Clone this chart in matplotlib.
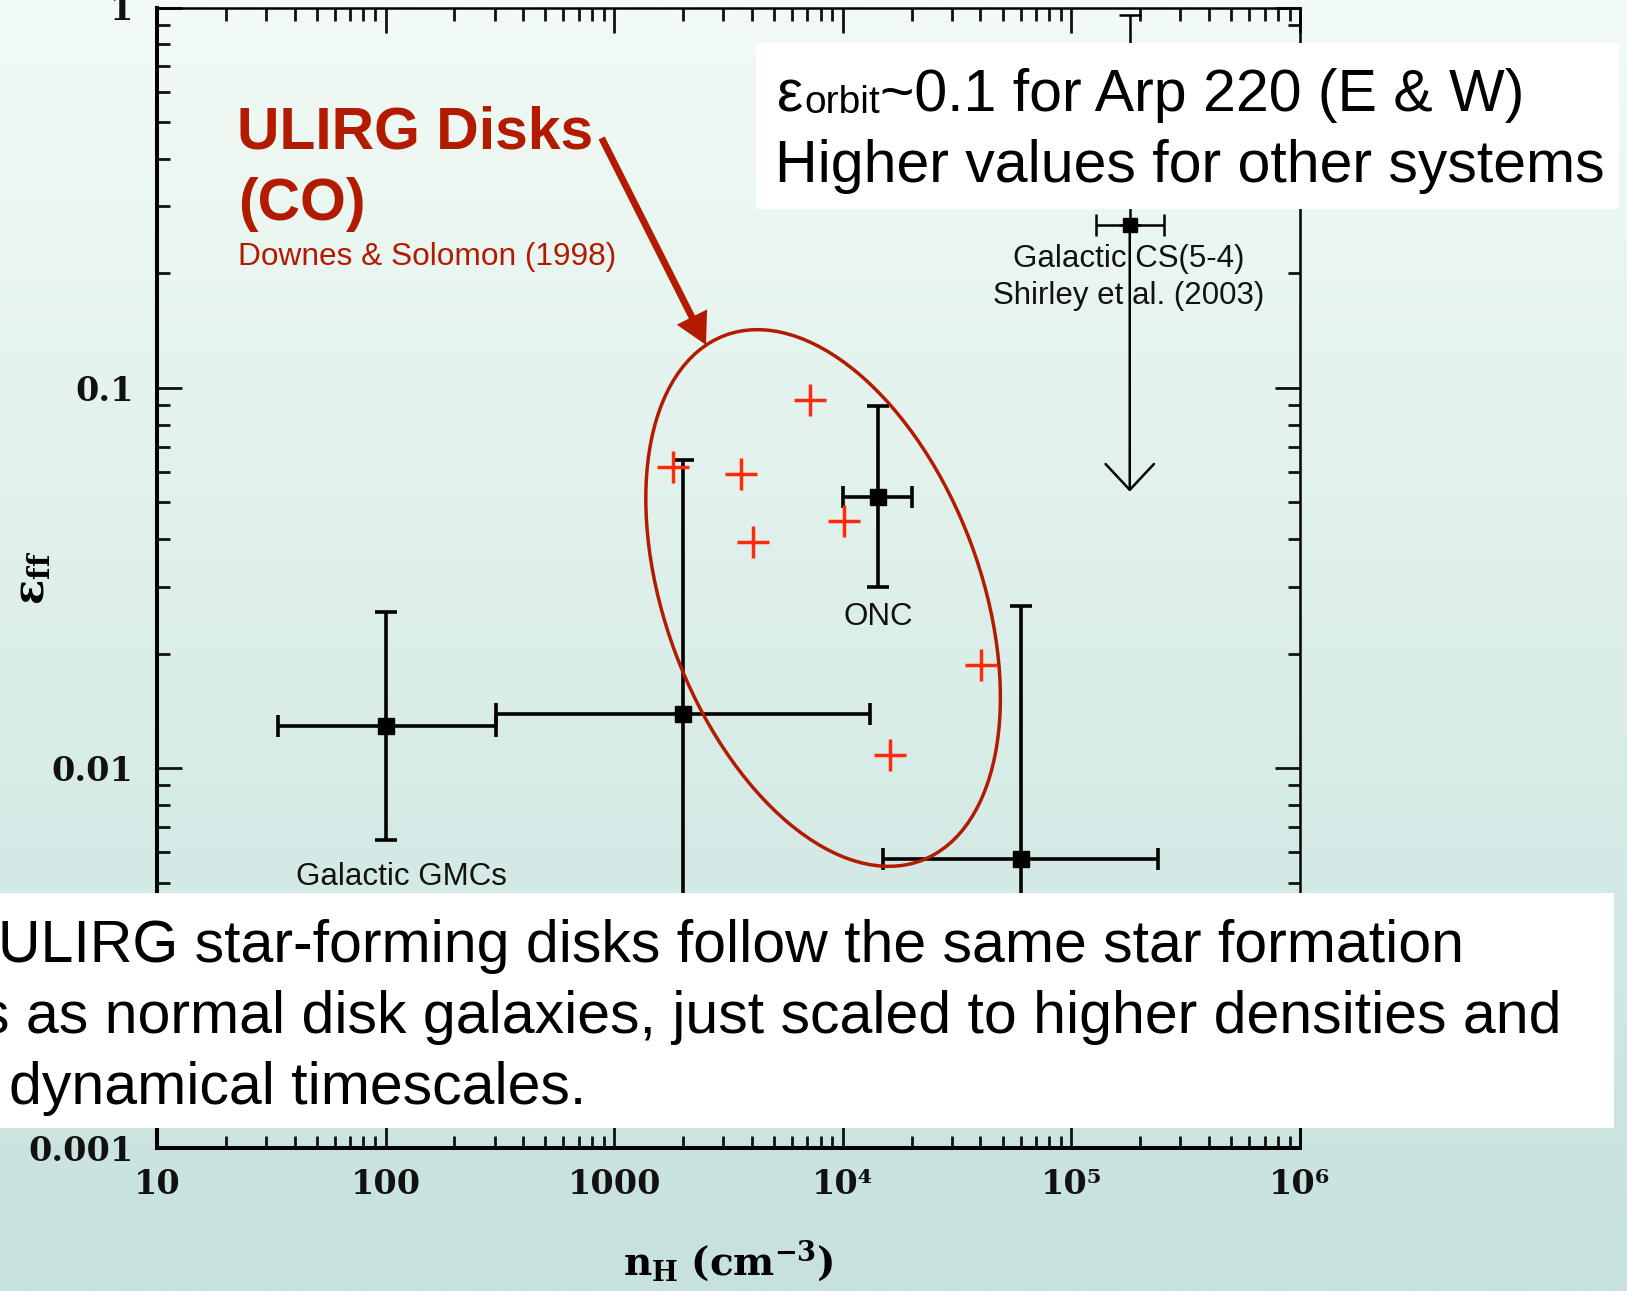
import numpy as np
import matplotlib
matplotlib.use("Agg")
import matplotlib.pyplot as plt
import matplotlib.ticker as mticker
from matplotlib.patches import Ellipse, Rectangle
from matplotlib.transforms import ScaledTranslation
from matplotlib.text import Annotation

# ---------------- data ----------------
# Black squares with error bars (n_H [cm^-3], eps_ff)
cloud_n      = [100.0, 2000.0, 14200.0, 60000.0]
cloud_eff    = [0.0129, 0.0139, 0.0517, 0.00576]
cloud_n_lo   = [34.0, 303.0, 9990.0, 15000.0]
cloud_n_hi   = [303.0, 13200.0, 20100.0, 240000.0]
cloud_eff_lo = [0.00647, 0.0020, 0.0299, 0.0020]
cloud_eff_hi = [0.0258, 0.0646, 0.0896, 0.0266]

# Galactic CS(5-4), Shirley et al. (2003): upper limit
cs_n = [180000.0]
cs_eff = [0.268]
cs_n_lo = [128000.0]
cs_n_hi = [254000.0]
cs_eff_hi = [0.956]
cs_eff_limit = [0.0533]

# ULIRG disks (CO), Downes & Solomon (1998)
ulirg_n   = [1800.0, 3600.0, 7200.0, 4030.0, 10100.0, 40200.0, 16050.0]
ulirg_eff = [0.0619, 0.0593, 0.0931, 0.0394, 0.0447, 0.0187, 0.0108]

x_ticks = [10, 100, 1000, 1e4, 1e5, 1e6]
x_tick_labels = ["10", "100", "1000", "10\u2074", "10\u2075", "10\u2076"]
y_ticks = [0.001, 0.01, 0.1, 1]
y_tick_labels = ["0.001", "0.01", "0.1", "1"]

# ---------------- style ----------------
plt.rcParams['font.family'] = ['Liberation Sans', 'DejaVu Sans']
plt.rcParams['mathtext.fontset'] = 'dejavuserif'

RED_DARK = '#b31b00'
RED_CROSS = '#ff2a0a'
INK = '#111111'

W, H = 1627, 1291
fig = plt.figure(figsize=(W / 100, H / 100), dpi=100)


def fx(px):
    return px / W


def fy(py):
    return 1 - py / H


# background gradient
bg = fig.add_axes([0, 0, 1, 1], zorder=-10)
c_top = np.array([242, 251, 245]) / 255.0
c_bot = np.array([198, 225, 222]) / 255.0
tt = np.linspace(0, 1, 256)[:, None]
grad = c_top[None, :] * (1 - tt) + c_bot[None, :] * tt
bg.imshow(grad[:, None, :], aspect='auto', extent=[0, 1, 0, 1], interpolation='bilinear')
bg.axis('off')

# main axes
ax = fig.add_axes([fx(157), fy(1148.3), (1300 - 157) / W, (1148.3 - 7.5) / H])
ax.set_facecolor('none')
ax.set_xscale('log')
ax.set_yscale('log')
ax.set_xlim(10, 1e6)
ax.set_ylim(1e-3, 1)

cn = np.array(cloud_n)
ce = np.array(cloud_eff)
xerr = [cn - np.array(cloud_n_lo), np.array(cloud_n_hi) - cn]
yerr = [ce - np.array(cloud_eff_lo), np.array(cloud_eff_hi) - ce]
ax.errorbar(cn, ce, xerr=xerr, yerr=yerr, fmt='s', color='black', ms=11.5,
            elinewidth=2.6, capsize=7.8, capthick=2.6, zorder=4)

csn = np.array(cs_n)
cse = np.array(cs_eff)
ax.errorbar(csn, cse, xerr=[csn - np.array(cs_n_lo), np.array(cs_n_hi) - csn],
            yerr=[np.zeros_like(cse), np.array(cs_eff_hi) - cse], fmt='s',
            color='black', ms=9.5, elinewidth=1.8, capsize=7.8,
            capthick=1.8, zorder=4)
for xn, y0, y1 in zip(cs_n, cs_eff, cs_eff_limit):
    ax.annotate('', xy=(xn, y1), xytext=(xn, y0),
                arrowprops=dict(arrowstyle='->,head_length=0.93,head_width=0.87',
                                lw=1.8, color='black', shrinkA=0, shrinkB=0,
                                mutation_scale=20), zorder=4)

ax.plot(ulirg_n, ulirg_eff, linestyle='none', marker='+', ms=22.8, mew=2.5,
        color=RED_CROSS, zorder=5)

# ellipse around the ULIRG disks
ell_trans = fig.dpi_scale_trans + ScaledTranslation(8200, 0.028, ax.transData)
ax.add_patch(Ellipse((0, 0), width=5.607, height=3.152, angle=-69.5,
                     transform=ell_trans, fill=False, edgecolor=RED_DARK,
                     lw=2.5, zorder=6))

# arrow from the ULIRG label
ax.annotate('', xy=(2521, 0.1296), xytext=(881, 0.4538),
            arrowprops=dict(arrowstyle='simple,head_length=1.5,head_width=1.63,tail_width=0.33',
                            color=RED_DARK, lw=0, shrinkA=0, shrinkB=0,
                            mutation_scale=15), zorder=6)

# ticks
ax.set_xticks(x_ticks, labels=x_tick_labels, fontfamily='DejaVu Serif',
              fontweight='bold', fontsize=24)
ax.set_yticks(y_ticks, labels=y_tick_labels, fontfamily='DejaVu Serif',
              fontweight='bold', fontsize=24)
ax.xaxis.set_minor_locator(mticker.LogLocator(base=10, subs=np.arange(2, 10)))
ax.yaxis.set_minor_locator(mticker.LogLocator(base=10, subs=np.arange(2, 10)))
ax.xaxis.set_minor_formatter(mticker.NullFormatter())
ax.yaxis.set_minor_formatter(mticker.NullFormatter())
ax.tick_params(which='both', direction='in', top=True, right=True, colors=INK)
ax.tick_params(which='major', length=18, width=2)
ax.tick_params(which='minor', length=9, width=2)
ax.tick_params(axis='x', which='major', pad=14.5)
ax.tick_params(axis='y', which='major', pad=17)
for s in ['left', 'bottom']:
    ax.spines[s].set_linewidth(2.9)
for s in ['top', 'right']:
    ax.spines[s].set_linewidth(1.8)

ax.set_xlabel(r'$\mathbf{n_H\ (cm^{-3})}$', fontsize=28)
ax.xaxis.set_label_coords(0.5, -0.0988)
ax.xaxis.label.set_va('center')
ax.set_ylabel(r'$\mathbf{\epsilon_{ff}}$', fontsize=30)
ax.yaxis.set_label_coords(-0.1085, 0.5)
ax.yaxis.label.set_va('center')
ax.yaxis.label.set_ha('center')

# point labels (inside axes, below error bars)
lab_kw = dict(transform=fig.transFigure, fontsize=22.5, color=INK,
              ha='center', va='baseline', zorder=2)
ax.text(fx(1128.5), fy(266.7), 'Galactic CS(5-4)', **lab_kw)
ax.text(fx(1128.5), fy(304), 'Shirley et al. (2003)', **lab_kw)
ax.text(fx(878), fy(625), 'ONC', **lab_kw)
ax.text(fx(401.8), fy(885), 'Galactic GMCs', **lab_kw)

# red ULIRG label
fig.text(fx(237), fy(148.3), 'ULIRG Disks', fontsize=42.4, fontweight='bold',
         color=RED_DARK, va='baseline', zorder=12)
fig.text(fx(238), fy(220), '(CO)', fontsize=42.4, fontweight='bold',
         color=RED_DARK, va='baseline', zorder=12)
fig.text(fx(238), fy(265), 'Downes & Solomon (1998)', fontsize=22.8,
         color=RED_DARK, va='baseline', zorder=12)

# white boxes
fig.add_artist(Rectangle((fx(756.2), fy(209.3)), (1619.3 - 756.2) / W,
                         (209.3 - 42.7) / H, transform=fig.transFigure,
                         facecolor='white', edgecolor='none', zorder=10))
fig.add_artist(Rectangle((fx(-5), fy(1128)), (1614 + 5) / W, (1128 - 893) / H,
                         transform=fig.transFigure, facecolor='white',
                         edgecolor='none', zorder=10))

# top-right box text
BIG = 42.5
t_eps = fig.text(fx(777), fy(111), '\u03b5', fontsize=BIG, color='black',
                 va='baseline', zorder=12)
t_orb = Annotation('orbit', xy=(1, 0), xycoords=t_eps, xytext=(0.5, 1.5),
                   textcoords='offset points', fontsize=28, color='black',
                   va='bottom', ha='left', zorder=12)
fig.add_artist(t_orb)
t_rest = Annotation('~0.1 for Arp 220 (E & W)', xy=(1, 0), xycoords=t_orb,
                    xytext=(0.5, -1.5), textcoords='offset points',
                    fontsize=BIG, color='black', va='bottom', ha='left',
                    zorder=12)
fig.add_artist(t_rest)
fig.text(fx(775), fy(182.3), 'Higher values for other systems', fontsize=BIG,
         color='black', va='baseline', zorder=12)

# bottom box text
fig.text(fx(-2), fy(962), 'ULIRG star-forming disks follow the same star formation',
         fontsize=BIG, color='black', va='baseline', zorder=12)
fig.text(fx(-20), fy(1033), 's as normal disk galaxies, just scaled to higher densities and',
         fontsize=BIG, color='black', va='baseline', zorder=12)
fig.text(fx(8.6), fy(1103.5), 'dynamical timescales.',
         fontsize=BIG, color='black', va='baseline', zorder=12)

fig.savefig('out.png', dpi=100)
